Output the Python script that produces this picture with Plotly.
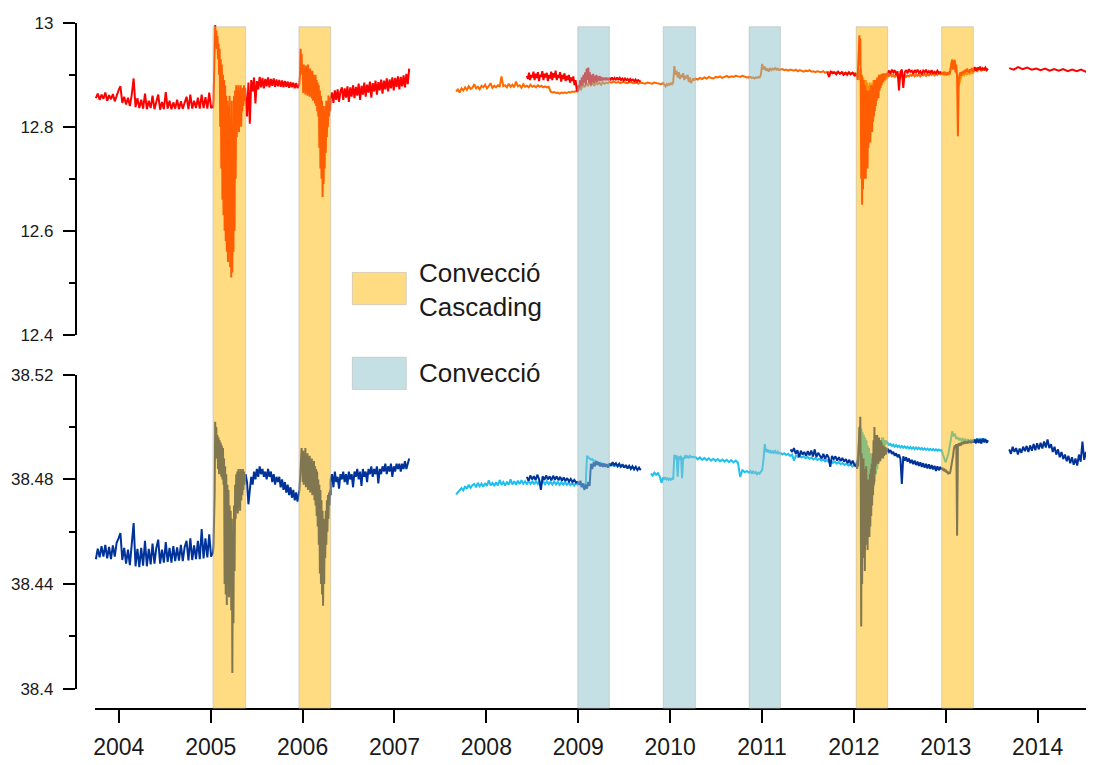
import numpy as np
import plotly.graph_objects as go

# ---------------- event windows (decimal years) ----------------
casc_start = [2005.025, 2005.96, 2012.025, 2012.955]
casc_end = [2005.38, 2006.305, 2012.367, 2013.30]
conv_start = [2008.995, 2009.925, 2010.86]
conv_end = [2009.338, 2010.275, 2011.20]
B1s, B2s, B3s, B4s = casc_start
B1e, B2e, B3e, B4e = casc_end
C1s, C2s, C3s = conv_start
C1e, C2e, C3e = conv_end

years = list(range(2004, 2015))
legend_labels = ["Convecció<br>Cascading", "Convecció"]

# ---------------- temperature, sensor A (red) ----------------
tA1_pre = [12.855, 12.864, 12.852, 12.862, 12.854, 12.866, 12.85, 12.861, 12.853, 12.863,
           12.849, 12.862, 12.87, 12.878, 12.846, 12.858, 12.843, 12.856, 12.84, 12.862,
           12.893, 12.838, 12.855, 12.836, 12.852, 12.835, 12.864, 12.834, 12.85, 12.836,
           12.86, 12.834, 12.85, 12.862, 12.833, 12.848, 12.834, 12.867, 12.835, 12.85,
           12.834, 12.847, 12.835, 12.852, 12.834, 12.849, 12.835, 12.846, 12.858, 12.834,
           12.862, 12.835, 12.85, 12.836, 12.856, 12.835, 12.862, 12.836, 12.857, 12.835,
           12.866, 12.836, 12.84]
tA1_b1 = [12.836, 12.85, 12.9,
          12.99, 12.996, 12.97, 12.985, 12.95, 12.975, 12.93, 12.96,
          12.9, 12.95, 12.8, 12.93, 12.72, 12.92, 12.66, 12.9, 12.63, 12.89, 12.6, 12.88,
          12.58, 12.86, 12.56, 12.85, 12.54, 12.84, 12.56, 12.86, 12.53, 12.82, 12.51, 12.85,
          12.52, 12.8, 12.56, 12.86, 12.6, 12.87,
          12.7, 12.88, 12.78, 12.87, 12.8, 12.88, 12.79, 12.87, 12.82, 12.88, 12.8, 12.87,
          12.83, 12.875, 12.84, 12.88, 12.85, 12.875, 12.86]
tA1_mid = [12.86, 12.82, 12.885, 12.806, 12.89, 12.868, 12.895, 12.845, 12.888, 12.872,
           12.896, 12.876, 12.894, 12.874, 12.892, 12.878, 12.895, 12.876, 12.892, 12.879,
           12.893, 12.877, 12.891, 12.878, 12.89, 12.877, 12.889, 12.876, 12.888, 12.877,
           12.887, 12.875, 12.886, 12.876, 12.885, 12.874, 12.884, 12.875, 12.879]
tA1_b2 = [12.878, 12.885, 12.9,
          12.95, 12.93, 12.94, 12.9,
          12.915, 12.865, 12.92, 12.87, 12.91, 12.862, 12.918, 12.868, 12.912, 12.86,
          12.92, 12.865, 12.905, 12.858, 12.912, 12.862, 12.9, 12.855, 12.908, 12.85,
          12.9, 12.852, 12.895, 12.845, 12.9, 12.84, 12.89, 12.83, 12.885, 12.82,
          12.88, 12.76, 12.87, 12.72, 12.86, 12.7, 12.85, 12.665, 12.84, 12.69,
          12.83, 12.72, 12.84, 12.75, 12.85, 12.78,
          12.85, 12.8, 12.86, 12.82, 12.855, 12.83, 12.85]
tA1_post = [12.855, 12.866, 12.846, 12.87, 12.852, 12.872, 12.848, 12.868, 12.876, 12.852,
            12.874, 12.856, 12.878, 12.848, 12.876, 12.858, 12.88, 12.855, 12.877, 12.86,
            12.883, 12.852, 12.879, 12.862, 12.885, 12.858, 12.881, 12.866, 12.887, 12.856,
            12.884, 12.868, 12.889, 12.862, 12.886, 12.87, 12.891, 12.864, 12.889, 12.872,
            12.893, 12.868, 12.891, 12.874, 12.895, 12.87, 12.894, 12.877, 12.897, 12.872,
            12.896, 12.878, 12.899, 12.876, 12.902, 12.882, 12.912]
tA2_pre = [12.898, 12.892, 12.904, 12.89, 12.9, 12.895, 12.906, 12.89, 12.902, 12.894,
           12.905, 12.888, 12.9, 12.896, 12.907, 12.89, 12.902, 12.895, 12.904, 12.888,
           12.9, 12.893, 12.906, 12.89, 12.903, 12.895, 12.908, 12.89, 12.9, 12.894,
           12.905, 12.887, 12.9, 12.892, 12.903, 12.888, 12.898, 12.89, 12.9, 12.885,
           12.895, 12.888, 12.897, 12.88, 12.89, 12.872, 12.868]
tA2_c1 = [12.87, 12.88, 12.875, 12.89, 12.878, 12.895, 12.88, 12.9, 12.885, 12.905,
          12.882, 12.912, 12.89, 12.914, 12.885, 12.905, 12.88, 12.9, 12.886, 12.902,
          12.884, 12.898, 12.888, 12.9, 12.886, 12.897, 12.889, 12.898, 12.888, 12.896,
          12.889, 12.895, 12.89, 12.894, 12.89, 12.895, 12.89, 12.894, 12.891, 12.893]
tA2_post = [12.894, 12.891, 12.895, 12.89, 12.894, 12.891, 12.895, 12.89, 12.894, 12.89,
            12.893, 12.889, 12.893, 12.89, 12.892, 12.888, 12.892, 12.889, 12.891, 12.888,
            12.891, 12.887, 12.89, 12.888, 12.889]
tA3_pre = [12.905, 12.896, 12.906, 12.903, 12.905, 12.901, 12.906, 12.902, 12.905, 12.9,
           12.904, 12.9, 12.905, 12.901, 12.904, 12.899, 12.903]
tA3_b3 = [12.9, 12.896, 12.902, 12.89, 12.91, 12.93,
          12.95, 12.976, 12.92, 12.97, 12.88,
          12.7, 12.9, 12.65, 12.88, 12.68, 12.89, 12.7, 12.87, 12.72, 12.88, 12.7, 12.86, 12.74, 12.87, 12.72,
          12.86, 12.76, 12.87, 12.78, 12.86, 12.77, 12.88, 12.8, 12.87, 12.79, 12.88, 12.81, 12.87, 12.82,
          12.89, 12.83, 12.88, 12.84, 12.89,
          12.85, 12.895, 12.86, 12.89, 12.855, 12.9, 12.87, 12.895, 12.875, 12.9,
          12.88, 12.902, 12.885, 12.9, 12.888, 12.903, 12.89, 12.9, 12.893, 12.903,
          12.895, 12.902, 12.897, 12.903, 12.9]
tA3_mid = [12.904, 12.908, 12.902, 12.91, 12.905, 12.909, 12.9, 12.907, 12.87, 12.906,
           12.91, 12.875, 12.905, 12.909, 12.903, 12.911, 12.906, 12.908, 12.902, 12.909,
           12.905, 12.91, 12.904, 12.907, 12.901, 12.908, 12.905, 12.91, 12.903, 12.907,
           12.904, 12.909, 12.902, 12.906, 12.903, 12.908, 12.904, 12.905, 12.903]
tA3_b4 = [12.903, 12.905, 12.9, 12.906, 12.902, 12.904, 12.899, 12.905, 12.9, 12.906,
          12.902, 12.91, 12.925, 12.928, 12.91, 12.926, 12.929, 12.905, 12.92, 12.895,
          12.782, 12.89, 12.9, 12.905, 12.898, 12.906, 12.902, 12.908, 12.903, 12.91,
          12.905, 12.912, 12.906, 12.91, 12.904, 12.911, 12.907, 12.913, 12.906, 12.91]
tA3_post = [12.91, 12.915, 12.908, 12.914, 12.91, 12.916, 12.909, 12.913, 12.91, 12.914,
            12.909, 12.912]
tA4 = [12.913, 12.91, 12.915, 12.911, 12.914, 12.91, 12.912, 12.909, 12.912, 12.908,
       12.911, 12.908, 12.911, 12.907, 12.91, 12.907, 12.91, 12.906, 12.909, 12.907]

# ---------------- temperature, sensor B (orange) ----------------
tB_a = [12.868, 12.872, 12.866, 12.874, 12.87, 12.876, 12.871, 12.878, 12.873, 12.875,
        12.882, 12.874, 12.877, 12.872, 12.879, 12.876, 12.881, 12.874, 12.878, 12.884,
        12.875, 12.879, 12.876, 12.88, 12.877, 12.897, 12.878, 12.88, 12.876, 12.883,
        12.877, 12.881, 12.876, 12.887, 12.878, 12.88, 12.875, 12.882, 12.877, 12.879,
        12.876, 12.881, 12.877, 12.879, 12.876, 12.88, 12.877, 12.879, 12.876, 12.878,
        12.876, 12.877, 12.868, 12.866, 12.867, 12.865, 12.866, 12.864, 12.866, 12.865,
        12.866, 12.865, 12.867, 12.866, 12.868, 12.867, 12.869, 12.868]
tB_c1 = [12.868, 12.875, 12.872, 12.882, 12.876, 12.885, 12.878, 12.888, 12.88, 12.884,
         12.879, 12.886, 12.882, 12.885, 12.881, 12.886, 12.883, 12.885, 12.884, 12.886]
tB_b = [12.886, 12.885, 12.887, 12.885, 12.886, 12.884, 12.886, 12.885, 12.884, 12.886,
        12.885, 12.884, 12.885, 12.883, 12.885, 12.884, 12.883, 12.885, 12.884, 12.883,
        12.885, 12.884, 12.883, 12.882, 12.884]
tB_c2 = [12.883, 12.881, 12.878, 12.882, 12.88, 12.883, 12.881, 12.884, 12.882, 12.886,
         12.917, 12.9, 12.908, 12.895, 12.905, 12.892, 12.9, 12.895, 12.903, 12.89,
         12.898, 12.893, 12.9, 12.886, 12.895, 12.884, 12.89, 12.893, 12.889, 12.892]
tB_c = [12.893, 12.891, 12.894, 12.892, 12.895, 12.893, 12.896, 12.894, 12.893, 12.896,
        12.895, 12.897, 12.894, 12.896, 12.898, 12.895, 12.897, 12.896, 12.898, 12.897,
        12.896, 12.898, 12.897, 12.895, 12.896]
tB_c3 = [12.895, 12.896, 12.894, 12.895, 12.893, 12.895, 12.894, 12.896, 12.895, 12.9,
         12.921, 12.91, 12.916, 12.908, 12.912, 12.906, 12.913, 12.909, 12.912, 12.91,
         12.913, 12.91, 12.912, 12.909, 12.911]
tB_d = [12.91, 12.911, 12.909, 12.91, 12.908, 12.91, 12.909, 12.908, 12.91, 12.907,
        12.909, 12.908, 12.906, 12.908, 12.907, 12.909, 12.906, 12.907, 12.905, 12.907,
        12.906, 12.905, 12.907, 12.904, 12.906, 12.905, 12.904, 12.906, 12.903, 12.905,
        12.904, 12.903, 12.905, 12.902, 12.904, 12.903, 12.902, 12.904, 12.903, 12.902]
tB_b3 = [12.9, 12.898, 12.902, 12.895, 12.9, 12.89, 12.905, 12.912,
         12.88, 12.9, 12.86, 12.895, 12.85, 12.89, 12.84, 12.89, 12.835, 12.885, 12.83, 12.88,
         12.826, 12.885, 12.835, 12.88, 12.84, 12.885, 12.845, 12.89, 12.85, 12.885, 12.855,
         12.89, 12.86, 12.893, 12.865, 12.895, 12.87, 12.895, 12.875, 12.897, 12.88,
         12.898, 12.885, 12.899, 12.888, 12.9, 12.89, 12.9, 12.893, 12.896]
tB_e = [12.9, 12.898, 12.901, 12.897, 12.9, 12.896, 12.899, 12.897, 12.9, 12.895,
        12.899, 12.897, 12.9, 12.896, 12.899, 12.897, 12.9, 12.898, 12.901, 12.897,
        12.9, 12.898, 12.901, 12.897, 12.9, 12.899, 12.902, 12.898, 12.901, 12.899,
        12.902, 12.9, 12.903, 12.899, 12.902, 12.9, 12.903, 12.901, 12.903]
tB_b4 = [12.902, 12.903, 12.9, 12.904, 12.901, 12.903, 12.9, 12.918, 12.93, 12.915,
         12.926, 12.905, 12.9, 12.88, 12.892, 12.898, 12.902, 12.899, 12.903, 12.901,
         12.904, 12.902, 12.905, 12.903, 12.905]
tB_f = [12.906, 12.91, 12.907, 12.912, 12.908, 12.911, 12.909, 12.912]

# ---------------- salinity, sensor A (dark blue) ----------------
sA1_pre = [38.4495, 38.4535, 38.4502, 38.4545, 38.4505, 38.455, 38.4498, 38.4542, 38.4495, 38.4548,
           38.4505, 38.4558, 38.4575, 38.4595, 38.4492, 38.4538, 38.4478, 38.4532, 38.4472, 38.454,
           38.4633, 38.4468, 38.4535, 38.4465, 38.4538, 38.447, 38.4565, 38.4468, 38.4535, 38.4475,
           38.4555, 38.4478, 38.4538, 38.457, 38.4478, 38.4532, 38.4482, 38.456, 38.4485, 38.4538,
           38.4482, 38.4545, 38.4488, 38.454, 38.449, 38.455, 38.4488, 38.4542, 38.4565, 38.449,
           38.4575, 38.4492, 38.4548, 38.4495, 38.4565, 38.4495, 38.461, 38.4498, 38.4575, 38.4502,
           38.459, 38.4505, 38.452]
sA1_b1 = [38.452, 38.455, 38.462,
          38.475, 38.502, 38.49, 38.5, 38.488, 38.497,
          38.484, 38.496, 38.482, 38.495, 38.483, 38.494, 38.481, 38.493, 38.48, 38.492, 38.478, 38.488,
          38.44, 38.485, 38.436, 38.482, 38.432, 38.478, 38.44, 38.476, 38.435, 38.47,
          38.44, 38.468, 38.43, 38.465, 38.406, 38.46, 38.425, 38.47, 38.445, 38.478,
          38.465, 38.482, 38.468, 38.483, 38.467, 38.484, 38.47, 38.483, 38.468, 38.484,
          38.472, 38.483, 38.474, 38.484, 38.476, 38.483, 38.478, 38.482, 38.48]
sA1_mid = [38.482, 38.479, 38.4705, 38.476, 38.481, 38.478, 38.483, 38.48, 38.484, 38.481,
           38.485, 38.482, 38.484, 38.481, 38.483, 38.48, 38.484, 38.481, 38.483, 38.479,
           38.482, 38.478, 38.481, 38.479, 38.481, 38.477, 38.48, 38.476, 38.479, 38.475,
           38.478, 38.474, 38.477, 38.473, 38.476, 38.472, 38.475, 38.4715, 38.474]
sA1_b2 = [38.474, 38.476, 38.48, 38.486, 38.49, 38.492, 38.488,
          38.479, 38.491, 38.478, 38.49, 38.48, 38.492, 38.477, 38.489, 38.479, 38.49,
          38.476, 38.488, 38.478, 38.489, 38.475, 38.487, 38.477, 38.488, 38.474, 38.486,
          38.476, 38.487, 38.472, 38.485, 38.47, 38.484, 38.466, 38.483, 38.462, 38.48,
          38.455, 38.478,
          38.444, 38.476, 38.44, 38.472, 38.436, 38.468, 38.4317, 38.465, 38.44, 38.462,
          38.45, 38.468, 38.455, 38.472,
          38.46, 38.474, 38.465, 38.475, 38.47, 38.476, 38.474]
sA1_post = [38.48, 38.482, 38.477, 38.483, 38.479, 38.481, 38.4765, 38.482, 38.48, 38.483,
            38.479, 38.482, 38.478, 38.483, 38.48, 38.482, 38.477, 38.483, 38.481, 38.484,
            38.48, 38.483, 38.4775, 38.484, 38.481, 38.483, 38.479, 38.484, 38.482, 38.485,
            38.481, 38.484, 38.482, 38.485, 38.4785, 38.484, 38.482, 38.485, 38.483, 38.486,
            38.482, 38.485, 38.483, 38.486, 38.481, 38.485, 38.483, 38.486, 38.484, 38.486,
            38.483, 38.486, 38.484, 38.487, 38.484, 38.486, 38.488]
sA2_pre = [38.481, 38.4795, 38.4815, 38.48, 38.4812, 38.4798, 38.4818, 38.48, 38.476, 38.4812,
           38.4798, 38.4815, 38.48, 38.4812, 38.4796, 38.4814, 38.4799, 38.4812, 38.4797, 38.481,
           38.4795, 38.4808, 38.4794, 38.4805, 38.4792, 38.4802, 38.479, 38.4798, 38.4788, 38.479]
sA2_c1 = [38.479, 38.478, 38.4795, 38.477, 38.4785, 38.476, 38.478, 38.4765, 38.479, 38.4775,
          38.486, 38.484, 38.4865, 38.485, 38.487, 38.4855, 38.4865, 38.485, 38.4862, 38.4848,
          38.486, 38.4848, 38.4858, 38.4845, 38.4855]
sA2_post = [38.4862, 38.4852, 38.4866, 38.4855, 38.4862, 38.485, 38.486, 38.4848, 38.4858, 38.4845,
            38.4855, 38.4842, 38.4852, 38.484, 38.485, 38.4838, 38.4848, 38.4836, 38.4845, 38.4835]
sA3_pre = [38.4915, 38.4905, 38.492, 38.4898, 38.4912, 38.4885, 38.491, 38.4895, 38.4905, 38.489,
           38.4908, 38.4892, 38.491, 38.4888, 38.4915, 38.4885, 38.4902, 38.489, 38.488, 38.4898,
           38.4878, 38.4895, 38.4885, 38.4848, 38.489, 38.4878, 38.4888, 38.4872, 38.4885, 38.487,
           38.4882, 38.4868, 38.4878, 38.4862, 38.4875, 38.4858, 38.4872, 38.4855, 38.4852]
sA3_b3 = [38.485, 38.4865, 38.484, 38.4875, 38.485, 38.49,
          38.496, 38.5, 38.49, 38.504, 38.48,
          38.4238, 38.49, 38.44, 38.485, 38.45, 38.488, 38.455, 38.484, 38.445, 38.482,
          38.455, 38.485, 38.46, 38.48, 38.453,
          38.48, 38.46, 38.478, 38.458, 38.482, 38.462, 38.484, 38.466, 38.486, 38.47,
          38.49, 38.474, 38.495, 38.478, 38.5, 38.482, 38.497, 38.485, 38.496,
          38.486, 38.497, 38.487, 38.495, 38.486, 38.496, 38.488, 38.494, 38.487, 38.495,
          38.488, 38.494, 38.489, 38.493, 38.488, 38.493, 38.489, 38.492, 38.4895, 38.4925,
          38.4895, 38.492, 38.4905, 38.4915, 38.4905]
sA3_mid = [38.4918, 38.4905, 38.4912, 38.4898, 38.4905, 38.489, 38.49, 38.4885, 38.4895, 38.4878,
           38.4783, 38.4888, 38.4872, 38.4885, 38.4868, 38.488, 38.4862, 38.4875, 38.4858, 38.4872,
           38.4855, 38.4868, 38.4852, 38.4865, 38.4848, 38.4862, 38.4845, 38.486, 38.4842, 38.4858,
           38.484, 38.4855, 38.4838, 38.4852, 38.4832, 38.485, 38.4835, 38.4848, 38.4838]
sA3_b4 = [38.4838, 38.4845, 38.4832, 38.4842, 38.483, 38.4838, 38.4825, 38.4832, 38.482, 38.4828,
          38.4822, 38.4835, 38.485, 38.487, 38.489, 38.4915, 38.493, 38.4922, 38.4935, 38.4585,
          38.493, 38.4938, 38.4928, 38.494, 38.493, 38.4942, 38.4935, 38.4945, 38.4936, 38.4946,
          38.4938, 38.4945, 38.4937, 38.4948, 38.494, 38.4946, 38.4939, 38.4948, 38.4941, 38.4947]
sA3_post = [38.494, 38.4952, 38.4938, 38.4955, 38.494, 38.4953, 38.4937, 38.4956, 38.4942, 38.4954,
            38.494, 38.495]
sA4 = [38.4915, 38.4898, 38.4925, 38.4905, 38.492, 38.4895, 38.4918, 38.4902, 38.4925, 38.4908,
       38.4928, 38.4905, 38.493, 38.491, 38.4935, 38.4912, 38.4938, 38.4915, 38.494, 38.4918,
       38.4945, 38.4922, 38.4953, 38.492, 38.4935, 38.4905, 38.4925, 38.4895, 38.4915, 38.4885,
       38.4905, 38.4878, 38.4895, 38.487, 38.489, 38.4862, 38.4885, 38.4856, 38.488, 38.4853,
       38.4895, 38.4868, 38.4945, 38.4875, 38.4905, 38.4872, 38.4898, 38.487, 38.4948, 38.4882]

# ---------------- salinity, sensor B (light blue) ----------------
sB_a = [38.4743, 38.4752, 38.4758, 38.4767, 38.4758, 38.4774, 38.4764, 38.478, 38.4768, 38.4778,
        38.4783, 38.477, 38.4787, 38.4774, 38.4784, 38.4772, 38.4786, 38.4775, 38.4797, 38.4777,
        38.4787, 38.4775, 38.4789, 38.4777, 38.4798, 38.4779, 38.479, 38.4777, 38.4791, 38.478,
        38.48, 38.4781, 38.4793, 38.4779, 38.4795, 38.4782, 38.4797, 38.4783, 38.4793, 38.4781,
        38.4795, 38.4783, 38.4793, 38.4781, 38.4794, 38.4782, 38.4793, 38.4783, 38.4792, 38.4781,
        38.4793, 38.4782, 38.4791, 38.478, 38.4792, 38.4781, 38.479, 38.4779, 38.4789, 38.478,
        38.4789, 38.4779, 38.4788, 38.4778, 38.4787, 38.4777, 38.4786, 38.478]
sB_c1 = [38.478, 38.4785, 38.4778, 38.4783, 38.4776, 38.478, 38.4775, 38.489, 38.4885, 38.488,
         38.4875, 38.4878, 38.487, 38.4872, 38.4866, 38.4868, 38.4862, 38.4864, 38.4858, 38.486,
         38.4856, 38.4858, 38.4855, 38.4857, 38.4854]
sB_b = [38.4853, 38.4856, 38.4851, 38.4854, 38.485, 38.4852, 38.4848, 38.485, 38.4846, 38.4848,
        38.4844, 38.4846]
sB_c = [38.4822, 38.4815, 38.4826, 38.4818, 38.4824, 38.4812, 38.4787, 38.4805]
sB_c2 = [38.4808, 38.4802, 38.4806, 38.48, 38.4804, 38.4798, 38.4803, 38.4799, 38.4804, 38.4802,
         38.4894, 38.4878, 38.4892, 38.481, 38.4888, 38.4875, 38.489, 38.4805, 38.4885, 38.4878,
         38.4893, 38.4882, 38.4888, 38.4884, 38.489, 38.4885, 38.4887, 38.4884, 38.4886, 38.4884]
sB_d = [38.4886, 38.4877, 38.4884, 38.4875, 38.4882, 38.4874, 38.4881, 38.4872, 38.4879, 38.4871,
        38.4878, 38.4869, 38.4876, 38.4868, 38.4875, 38.4866, 38.4874, 38.4865, 38.4872, 38.4864,
        38.481, 38.4835, 38.4828, 38.4832, 38.4826]
sB_c3 = [38.4826, 38.4832, 38.4822, 38.483, 38.4824, 38.4828, 38.482, 38.4826, 38.4822, 38.483,
         38.4835, 38.4875, 38.4935, 38.4905, 38.4915, 38.4902, 38.4912, 38.49, 38.491, 38.4902,
         38.4908, 38.4898, 38.4906, 38.4899, 38.4903]
sB_e = [38.4902, 38.4896, 38.49, 38.4893, 38.4898, 38.489, 38.4895, 38.4872, 38.4892, 38.4886,
        38.489, 38.4884, 38.4888, 38.4881, 38.4886, 38.4879, 38.4884, 38.4876, 38.4881, 38.4874,
        38.4879, 38.4872, 38.4876, 38.4869, 38.4874, 38.4866, 38.4871, 38.4863, 38.4868, 38.486,
        38.4866, 38.4858, 38.4863, 38.4855, 38.486, 38.4853, 38.4857, 38.485, 38.4855, 38.4852]
sB_b3 = [38.4852, 38.4858, 38.487, 38.49, 38.494,
         38.4985, 38.5006, 38.495, 38.4995, 38.49, 38.498,
         38.485, 38.497, 38.483, 38.496, 38.481, 38.495, 38.48, 38.493, 38.479, 38.492,
         38.478, 38.49, 38.477, 38.488, 38.478, 38.486, 38.477,
         38.484, 38.479, 38.487, 38.482, 38.49, 38.484, 38.492, 38.487, 38.494, 38.489,
         38.495, 38.49, 38.496, 38.491, 38.496, 38.492, 38.495, 38.493, 38.495, 38.4935,
         38.4945, 38.494]
sB_f = [38.4938, 38.4932, 38.4936, 38.4928, 38.4933, 38.4925, 38.4931, 38.4924, 38.4929, 38.4922,
        38.4928, 38.4921, 38.4926, 38.492, 38.4925, 38.4918, 38.4924, 38.4917, 38.4923, 38.4916,
        38.4922, 38.4916, 38.4921, 38.4915, 38.492, 38.4914, 38.4919, 38.4913, 38.4918, 38.4912,
        38.4917, 38.4912, 38.4916, 38.4911, 38.4915, 38.491, 38.4914, 38.491, 38.4912]
sB_b4 = [38.4912, 38.4895, 38.4875, 38.4866, 38.488, 38.4895, 38.4925, 38.496, 38.4984, 38.4965,
         38.4975, 38.4955, 38.4962, 38.495, 38.4958, 38.4948, 38.4955, 38.4947, 38.4953, 38.4946,
         38.4952, 38.4947, 38.4951, 38.4948, 38.495]
sB_g = [38.4952, 38.495, 38.4955, 38.4951, 38.4956, 38.4952, 38.4954, 38.4953]

# ---------------- record segments: (start, end, values) ----------------
red_segments = [
    [(2003.75, B1s, tA1_pre), (B1s, B1e, tA1_b1), (B1e, B2s, tA1_mid), (B2s, B2e, tA1_b2), (B2e, 2007.16, tA1_post)],
    [(2008.44, C1s, tA2_pre), (C1s, C1e, tA2_c1), (C1e, 2009.68, tA2_post)],
    [(2011.71, B3s, tA3_pre), (B3s, B3e, tA3_b3), (B3e, B4s, tA3_mid), (B4s, B4e, tA3_b4), (B4e, 2013.46, tA3_post)],
    [(2013.69, 2014.62, tA4)],
]
orange_segments = [
    [(2007.67, C1s, tB_a), (C1s, C1e, tB_c1), (C1e, C2s, tB_b), (C2s, C2e, tB_c2), (C2e, C3s, tB_c),
     (C3s, C3e, tB_c3), (C3e, B3s, tB_d), (B3s, B3e, tB_b3), (B3e, B4s, tB_e), (B4s, B4e, tB_b4),
     (B4e, 2013.45, tB_f)],
]
dblue_segments = [
    [(2003.75, B1s, sA1_pre), (B1s, B1e, sA1_b1), (B1e, B2s, sA1_mid), (B2s, B2e, sA1_b2), (B2e, 2007.16, sA1_post)],
    [(2008.44, C1s, sA2_pre), (C1s, C1e, sA2_c1), (C1e, 2009.68, sA2_post)],
    [(2011.31, B3s, sA3_pre), (B3s, B3e, sA3_b3), (B3e, B4s, sA3_mid), (B4s, B4e, sA3_b4), (B4e, 2013.46, sA3_post)],
    [(2013.69, 2014.62, sA4)],
]
lblue_segments = [
    [(2007.67, C1s, sB_a), (C1s, C1e, sB_c1), (C1e, 2009.63, sB_b)],
    [(2009.79, C2s, sB_c), (C2s, C2e, sB_c2), (C2e, C3s, sB_d), (C3s, C3e, sB_c3), (C3e, B3s, sB_e),
     (B3s, B3e, sB_b3), (B3e, B4s, sB_f), (B4s, B4e, sB_b4), (B4e, 2013.43, sB_g)],
]


def build(pieces):
    xs, ys = [], []
    for t0, t1, vals in pieces:
        xs.extend(np.linspace(t0, t1, len(vals)).tolist())
        ys.extend(vals)
    return xs, ys


fig = go.Figure()


def add_series(segments, color, yaxis):
    for pieces in segments:
        xs, ys = build(pieces)
        fig.add_trace(go.Scatter(x=xs, y=ys, mode="lines", yaxis=yaxis,
                                 line=dict(color=color, width=2),
                                 showlegend=False, hoverinfo="skip"))


add_series(orange_segments, "#FF6A00", "y")
add_series(red_segments, "#FF0000", "y")
add_series(lblue_segments, "#1EC0F0", "y2")
add_series(dblue_segments, "#003399", "y2")

# page body has an 8px margin: figure is placed at (8, 8) in the window
W, H = 1086, 757
OFF = 8


def px(x):
    return (x - OFF) / W


def py(y):
    return (H + OFF - y) / H


CASC_FILL = "rgba(255,185,5,0.5)"
CONV_FILL = "rgba(139,193,201,0.5)"
EDGE = "rgba(170,170,170,0.45)"
band_y0 = py(717)
band_y1 = py(18)

for s, e in zip(casc_start, casc_end):
    fig.add_shape(type="rect", xref="x", yref="paper", x0=s, x1=e, y0=band_y0, y1=band_y1,
                  fillcolor=CASC_FILL, line=dict(color=EDGE, width=1), layer="above")
for s, e in zip(conv_start, conv_end):
    fig.add_shape(type="rect", xref="x", yref="paper", x0=s, x1=e, y0=band_y0, y1=band_y1,
                  fillcolor=CONV_FILL, line=dict(color=EDGE, width=1), layer="above")

FONT = "Liberation Sans, Arial, sans-serif"

# legend boxes and labels
fig.add_shape(type="rect", xref="paper", yref="paper", x0=px(351), x1=px(405),
              y0=py(303), y1=py(270), fillcolor=CASC_FILL,
              line=dict(color=EDGE, width=1), layer="above")
fig.add_shape(type="rect", xref="paper", yref="paper", x0=px(351), x1=px(405),
              y0=py(390), y1=py(357), fillcolor=CONV_FILL,
              line=dict(color=EDGE, width=1), layer="above")
fig.add_annotation(x=px(416), y=py(288), xref="paper", yref="paper", xanchor="left",
                   yanchor="middle", align="left", showarrow=False, text=legend_labels[0],
                   font=dict(family=FONT, size=26, color="#1a1a1a"))
fig.add_annotation(x=px(416), y=py(373), xref="paper", yref="paper", xanchor="left",
                   yanchor="middle", align="left", showarrow=False, text=legend_labels[1],
                   font=dict(family=FONT, size=26, color="#1a1a1a"))

yaxis_common = dict(anchor="free", position=px(74), showline=True, linecolor="black", linewidth=2,
                    ticks="outside", ticklen=12, tickwidth=2, tickcolor="black",
                    showgrid=False, zeroline=False, ticklabelstandoff=6,
                    tickfont=dict(family=FONT, size=17, color="#1a1a1a"))

fig.update_layout(
    width=W, height=H, margin=dict(l=0, r=0, t=0, b=0),
    paper_bgcolor="white", plot_bgcolor="white",
    xaxis=dict(domain=[px(93), 1.0], range=[2003.739, 2014.613], anchor="free",
               position=py(718), showline=True, linecolor="black", linewidth=2,
               ticks="outside", ticklen=13, tickwidth=2, tickcolor="black",
               tickvals=years, ticktext=[str(y) for y in years],
               showgrid=False, zeroline=False, ticklabelstandoff=4,
               tickfont=dict(family=FONT, size=23, color="#1a1a1a")),
    yaxis=dict(domain=[py(334), py(14)], range=[12.4, 13.0],
               tick0=12.4, dtick=0.2,
               minor=dict(tick0=12.4, dtick=0.1, ticks="outside", ticklen=6, tickwidth=2,
                          tickcolor="black"),
               **yaxis_common),
    yaxis2=dict(domain=[py(697), py(375)], range=[38.4, 38.52],
                tick0=38.4, dtick=0.04,
                minor=dict(tick0=38.4, dtick=0.02, ticks="outside", ticklen=6, tickwidth=2,
                           tickcolor="black"),
                **yaxis_common),
)

fig.write_html("out.html")
